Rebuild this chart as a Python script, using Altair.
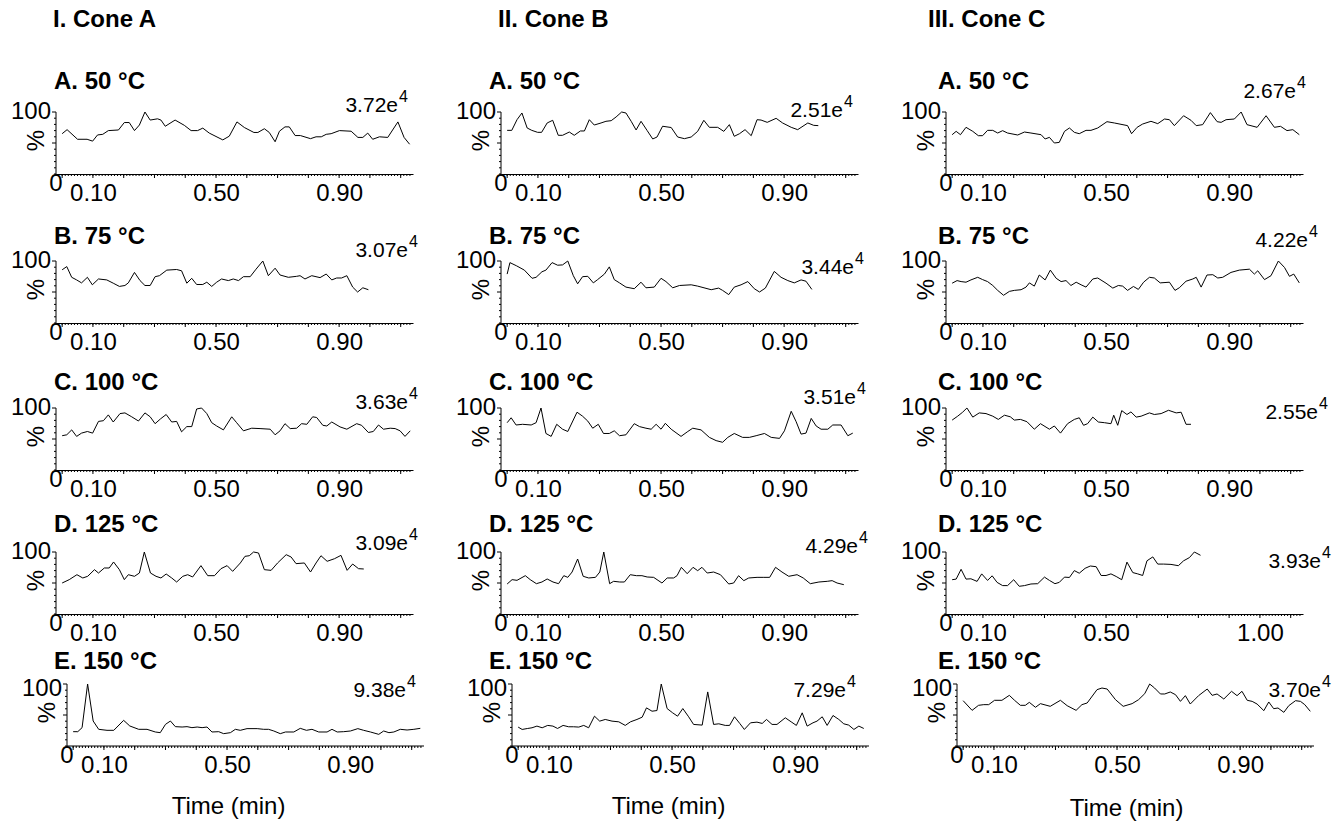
import altair as alt
import pandas as pd

FONT = "Liberation Sans"
X_MIN, X_MAX = -0.02, 1.14
PLOT_W, PLOT_H = 357, 62
SHIFT_E = 11
PX_PER_MIN = PLOT_W / (X_MAX - X_MIN)

# ---------------- data: (time in min, relative intensity %) ----------------
CONE_A_50 = [(0.0,65),(0.016,71.5),(0.05,56),(0.081,56),(0.099,53),(0.115,63),(0.132,64),(0.15,70),(0.183,71),(0.202,83),(0.218,83),(0.235,70),(0.251,79),(0.269,100),(0.286,87),(0.31,89),(0.321,87),(0.335,77),(0.367,87),(0.397,78.5),(0.419,70),(0.44,70),(0.457,74),(0.478,66),(0.522,55),(0.543,61),(0.568,84),(0.592,75),(0.623,67),(0.636,67),(0.657,73),(0.673,67),(0.692,52),(0.706,69),(0.724,76),(0.738,76),(0.757,62),(0.774,62),(0.807,57),(0.825,60),(0.842,60),(0.858,64),(0.874,65),(0.901,70),(0.939,69),(0.961,59),(0.977,59),(0.993,66),(1.009,56),(1.031,60),(1.058,59),(1.091,84),(1.111,59),(1.129,48)]
CONE_A_75 = [(0.0,85.8),(0.015,91),(0.031,73.7),(0.047,69.5),(0.063,64.7),(0.082,73.7),(0.098,61.6),(0.118,71),(0.145,69.5),(0.166,64.2),(0.186,59),(0.204,60.5),(0.215,64.7),(0.235,81.6),(0.253,68.4),(0.269,60.5),(0.286,60.5),(0.302,74.7),(0.316,76.3),(0.34,85.3),(0.372,86.3),(0.388,84.2),(0.405,64.2),(0.421,72.1),(0.437,62.1),(0.457,62.1),(0.47,65.8),(0.486,59),(0.502,65.8),(0.518,71),(0.54,68.4),(0.556,71),(0.573,68.4),(0.589,74.7),(0.611,74.7),(0.63,86.8),(0.652,100),(0.67,76.3),(0.692,88.4),(0.708,77.4),(0.735,73.7),(0.762,75.3),(0.773,76.3),(0.789,71),(0.811,76.3),(0.838,73.2),(0.858,79),(0.876,69.5),(0.892,72.6),(0.908,72.6),(0.925,76.3),(0.944,57.9),(0.96,50),(0.977,56.8),(0.995,53.7)]
CONE_A_100 = [(0.0,55.3),(0.015,56.8),(0.031,64.7),(0.047,54.2),(0.063,59.5),(0.082,62.1),(0.099,59.5),(0.118,78.4),(0.134,79.5),(0.15,88.9),(0.166,77.4),(0.188,91),(0.204,92.1),(0.226,85.8),(0.248,79),(0.269,92.1),(0.286,85.8),(0.302,74.7),(0.32,82.6),(0.338,89.5),(0.356,77.4),(0.372,78.4),(0.388,61.6),(0.405,70),(0.421,70),(0.437,98.4),(0.453,100),(0.47,91),(0.486,76.3),(0.502,71),(0.524,64.7),(0.551,85.8),(0.567,76.3),(0.589,63.2),(0.616,67.4),(0.643,66.8),(0.676,65.8),(0.692,56.8),(0.708,63.2),(0.724,74.7),(0.741,66.8),(0.762,67.4),(0.778,74.7),(0.795,73.7),(0.814,85.8),(0.827,84.7),(0.847,72.1),(0.86,71),(0.876,77.4),(0.903,69.5),(0.925,65.8),(0.957,74.7),(0.973,72.1),(0.995,60.5),(1.011,62.1),(1.028,72.6),(1.044,65.8),(1.066,67.4),(1.082,66.8),(1.098,63.2),(1.114,54.2),(1.131,63.2)]
CONE_A_125 = [(0.0,50),(0.023,55.4),(0.048,63.4),(0.067,58.1),(0.083,60.8),(0.105,71.5),(0.118,66.1),(0.137,74.2),(0.153,74.2),(0.167,83.9),(0.186,71.5),(0.202,55.4),(0.215,63.4),(0.235,60.8),(0.251,66.1),(0.267,100),(0.287,66.1),(0.305,60.8),(0.321,58.1),(0.338,64.5),(0.356,58.1),(0.372,51.6),(0.392,60.8),(0.408,63.4),(0.424,59.7),(0.451,78),(0.473,61.8),(0.495,61.8),(0.516,73.1),(0.536,78),(0.554,68.8),(0.579,82.3),(0.594,93),(0.608,94),(0.622,100),(0.638,98.4),(0.657,71.5),(0.679,70.4),(0.7,82.3),(0.728,95.7),(0.744,91.9),(0.76,81.2),(0.787,82.3),(0.807,67.7),(0.825,82.3),(0.841,94),(0.861,85),(0.885,89.2),(0.906,94.6),(0.926,70.4),(0.944,80.6),(0.963,73.1),(0.98,72.6)]
CONE_A_150 = [(0.0,23.1),(0.015,23.1),(0.029,29.6),(0.047,100),(0.065,40.3),(0.083,26.9),(0.11,25.3),(0.132,25.3),(0.164,41.4),(0.184,32.3),(0.213,26.9),(0.24,26.9),(0.267,22.6),(0.283,21.5),(0.3,34.9),(0.316,40.3),(0.332,31.2),(0.354,30.6),(0.37,31.2),(0.386,29.6),(0.403,30.6),(0.419,29.6),(0.435,30.6),(0.451,22.6),(0.473,23.1),(0.489,19.9),(0.511,21.5),(0.527,26.9),(0.543,25.3),(0.565,28),(0.598,28),(0.619,26.9),(0.635,26.9),(0.652,24.2),(0.673,19.9),(0.69,22.6),(0.717,22.6),(0.738,28.5),(0.758,25.3),(0.776,26.9),(0.798,22.6),(0.825,22.6),(0.841,26.9),(0.858,22.6),(0.879,23.1),(0.901,24.2),(0.925,28),(0.944,25.3),(0.966,22.6),(0.993,18.8),(1.009,24.2),(1.026,21.5),(1.042,22.6),(1.063,26.9),(1.085,25.8),(1.107,26.9),(1.128,28.5)]

CONE_B_50 = [(0.0,70.4),(0.015,70.4),(0.032,87.6),(0.048,98.4),(0.065,74.2),(0.08,70.4),(0.099,67.2),(0.112,67.2),(0.13,82.3),(0.148,86.6),(0.166,62.4),(0.18,62.4),(0.202,67.7),(0.218,62.4),(0.238,69.4),(0.251,69.4),(0.267,87.6),(0.283,79),(0.305,82.3),(0.321,85),(0.338,86),(0.354,92),(0.372,100),(0.386,98.4),(0.403,85),(0.419,71),(0.435,85),(0.455,70),(0.473,56.5),(0.487,59.7),(0.505,77),(0.533,75),(0.554,59.7),(0.576,57),(0.598,59.7),(0.619,68.8),(0.639,86.6),(0.657,75.3),(0.684,75.3),(0.704,68.8),(0.722,79.6),(0.738,60.8),(0.755,65),(0.773,71.5),(0.793,61.8),(0.812,87.6),(0.825,87),(0.845,83.3),(0.874,89.8),(0.895,82.3),(0.923,75.3),(0.944,71.5),(0.977,82.3),(0.996,78.5),(1.011,78)]
CONE_B_75 = [(0.0,78.9),(0.009,97.4),(0.031,92.1),(0.056,85.3),(0.081,72.1),(0.094,73.7),(0.113,82.6),(0.126,85.3),(0.146,97.4),(0.164,93.2),(0.18,93.7),(0.197,100),(0.215,76.3),(0.229,63.2),(0.245,74.7),(0.262,75.3),(0.28,64.7),(0.294,70),(0.316,78.9),(0.332,90.5),(0.348,70),(0.365,64.7),(0.386,57.9),(0.413,55.3),(0.435,65.8),(0.451,56.8),(0.478,57.9),(0.5,72.1),(0.516,66.8),(0.538,56.8),(0.56,60.5),(0.598,61.6),(0.619,59.5),(0.663,53.7),(0.687,56.3),(0.7,52.6),(0.72,45.8),(0.738,57.9),(0.76,61.6),(0.782,66.8),(0.803,55.3),(0.82,50),(0.839,56.3),(0.868,83.2),(0.89,73.7),(0.912,68.4),(0.933,64.7),(0.955,69.5),(0.971,67.4),(0.99,54.2)]
CONE_B_100 = [(0.0,76.3),(0.013,84.2),(0.029,72.6),(0.05,73.7),(0.078,72.6),(0.094,76.3),(0.11,100),(0.126,58.9),(0.143,54.2),(0.161,73.7),(0.18,65.8),(0.197,62.1),(0.227,93.2),(0.245,86.8),(0.262,78.9),(0.278,67.4),(0.296,73.7),(0.313,58.9),(0.332,58.9),(0.348,63.2),(0.365,55.3),(0.386,56.8),(0.413,74.7),(0.43,70),(0.451,67.4),(0.468,65.8),(0.484,73.7),(0.5,65.8),(0.514,75.3),(0.533,65.8),(0.565,54.2),(0.587,62.1),(0.603,67.4),(0.63,64.7),(0.657,52.6),(0.679,47.4),(0.7,44.7),(0.717,52.6),(0.738,58.9),(0.765,52.6),(0.787,52.6),(0.809,55.3),(0.836,58.9),(0.858,52.6),(0.885,51),(0.901,63.2),(0.923,94.7),(0.939,77.9),(0.955,57.9),(0.971,59.5),(0.988,83.2),(1.004,71),(1.02,65.8),(1.042,65.8),(1.058,72.6),(1.085,72.6),(1.107,55.3),(1.123,59.5)]
CONE_B_125 = [(0.0,48.4),(0.016,55.4),(0.032,54.3),(0.059,61.8),(0.075,55.4),(0.095,48.9),(0.113,51.6),(0.13,56.5),(0.149,51.6),(0.167,48.9),(0.184,61.8),(0.197,59.1),(0.211,67.7),(0.229,88.7),(0.247,60.8),(0.265,58.1),(0.287,59.1),(0.301,67.7),(0.314,100),(0.333,48.9),(0.346,52.7),(0.366,51.6),(0.381,51.6),(0.4,63.4),(0.42,61.8),(0.438,61.8),(0.455,59.7),(0.476,59.1),(0.503,50),(0.52,58.1),(0.541,58.1),(0.552,61.8),(0.566,75.3),(0.585,65),(0.604,75.3),(0.619,69.9),(0.633,75.3),(0.65,66.1),(0.671,67.7),(0.693,63.4),(0.72,48.4),(0.736,50),(0.752,61.8),(0.769,53.8),(0.785,58.1),(0.812,59.1),(0.834,59.1),(0.853,59.1),(0.872,75.3),(0.893,67.7),(0.915,60.8),(0.942,63.4),(0.962,58.1),(0.985,48.9),(1.013,51.6),(1.04,52.7),(1.056,53.8),(1.072,50),(1.094,47.3)]
CONE_B_150 = [(0.0,30.5),(0.013,26.7),(0.031,28.3),(0.045,29.4),(0.061,32.1),(0.078,29.4),(0.096,33.2),(0.113,32.1),(0.128,28.3),(0.146,33.2),(0.164,31),(0.18,31),(0.197,30.5),(0.213,33.2),(0.229,29.4),(0.248,48.1),(0.265,40.1),(0.283,42.8),(0.305,40.1),(0.327,39),(0.348,33.2),(0.365,39),(0.386,42.8),(0.403,46.5),(0.417,61.5),(0.435,56.1),(0.451,57.2),(0.465,100),(0.484,60.4),(0.502,53.5),(0.518,48.1),(0.535,60.4),(0.554,47.1),(0.57,34.8),(0.598,33.7),(0.616,87.2),(0.635,34.8),(0.652,35.8),(0.673,33.2),(0.687,33.2),(0.703,47.1),(0.72,36.4),(0.735,26.7),(0.755,37.4),(0.776,38.5),(0.793,36.4),(0.807,42.8),(0.825,34.8),(0.841,34.8),(0.868,45.5),(0.887,39),(0.904,33.2),(0.923,53.5),(0.939,32.1),(0.958,37.4),(0.971,40.1),(0.988,47.1),(1.004,33.2),(1.023,49.2),(1.042,42.8),(1.058,35.8),(1.074,33.7),(1.091,26.7),(1.107,32.1),(1.123,28.3)]

CONE_C_50 = [(0.0,63.4),(0.013,68.8),(0.027,63.4),(0.045,75.3),(0.067,68.8),(0.085,61.8),(0.099,61.8),(0.115,70.4),(0.132,70.4),(0.148,66.1),(0.164,69.9),(0.18,66.1),(0.213,62.9),(0.235,67.7),(0.256,66.1),(0.289,63.4),(0.302,56.5),(0.316,59.1),(0.332,50),(0.348,51),(0.365,68.8),(0.381,74.2),(0.397,67.2),(0.413,65),(0.435,70.4),(0.451,70.4),(0.473,74.2),(0.503,84.4),(0.527,82.3),(0.57,78),(0.583,65),(0.601,75.3),(0.619,80.6),(0.646,85),(0.668,81.2),(0.69,88.7),(0.706,87.6),(0.722,78),(0.752,94),(0.776,86.6),(0.793,78),(0.814,79.6),(0.839,99),(0.861,84.4),(0.874,83.3),(0.89,87.6),(0.917,88.7),(0.939,100),(0.958,79.6),(0.991,75.3),(1.02,94),(1.047,75.3),(1.067,76.9),(1.088,70),(1.107,71.5),(1.128,63.4)]
CONE_C_75 = [(0.0,64.2),(0.016,68.4),(0.029,66.8),(0.045,65.8),(0.061,69.5),(0.083,73.7),(0.099,70),(0.115,66.8),(0.132,60.5),(0.148,52.6),(0.167,44.7),(0.186,51),(0.202,52.6),(0.224,53.7),(0.24,57.9),(0.251,64.7),(0.267,59.5),(0.283,77.4),(0.302,69.5),(0.319,85.3),(0.338,72.1),(0.354,66.8),(0.37,68.4),(0.386,60.5),(0.403,65.8),(0.419,61.6),(0.435,57.9),(0.457,71),(0.473,72.6),(0.5,64.2),(0.522,56.3),(0.54,60.5),(0.554,59.5),(0.57,52.6),(0.589,58.9),(0.605,54.2),(0.622,65.8),(0.641,73.7),(0.657,72.6),(0.676,64.7),(0.706,65.8),(0.724,52.6),(0.738,56.8),(0.76,67.4),(0.782,71),(0.793,73.7),(0.809,57.9),(0.828,77.4),(0.847,77.9),(0.863,72.6),(0.879,73.7),(0.906,81.6),(0.933,85.3),(0.966,86.8),(0.982,78.9),(0.993,84.2),(1.015,70),(1.036,76.3),(1.06,100),(1.08,89.5),(1.096,75.3),(1.11,78.9),(1.128,64.7)]
CONE_C_100 = [(0.0,80.5),(0.018,86.8),(0.034,93.2),(0.048,100),(0.067,85.3),(0.088,92.1),(0.11,91),(0.132,86.8),(0.15,81.6),(0.17,88.4),(0.189,85.8),(0.202,80.5),(0.222,81.6),(0.243,77.9),(0.267,65.8),(0.287,74.7),(0.316,65.8),(0.332,71),(0.352,59.5),(0.375,74.7),(0.397,81.6),(0.413,84.2),(0.427,72.1),(0.44,74.7),(0.457,85.3),(0.475,77.4),(0.495,76.3),(0.516,74.7),(0.525,88.4),(0.538,72.1),(0.551,95.8),(0.568,89.5),(0.581,93.7),(0.598,85.3),(0.614,86.8),(0.641,92.1),(0.657,89.5),(0.679,91),(0.703,96.3),(0.728,92.1),(0.744,93.2),(0.76,73.7),(0.776,73.7)]
CONE_C_125 = [(0.0,55.3),(0.013,56.3),(0.029,72.1),(0.045,56.3),(0.061,56.8),(0.081,52.6),(0.096,64.7),(0.115,54.2),(0.13,61.6),(0.146,51),(0.164,45.8),(0.18,45.8),(0.2,55.3),(0.218,44.7),(0.235,45.8),(0.256,48.4),(0.278,48.9),(0.3,59.5),(0.316,54.2),(0.334,48.9),(0.348,51),(0.365,59.5),(0.381,58.9),(0.397,70),(0.413,65.8),(0.432,73.7),(0.449,77.4),(0.468,76.3),(0.484,62.1),(0.5,62.1),(0.516,64.7),(0.533,60.5),(0.551,55.3),(0.568,83.7),(0.587,66.8),(0.603,64.7),(0.619,62.1),(0.633,85.8),(0.652,92.1),(0.668,80.5),(0.687,80.5),(0.711,80),(0.735,77.9),(0.752,85.8),(0.771,91),(0.787,100),(0.807,94.7)]
CONE_C_150 = [(0.0,73.1),(0.029,57.5),(0.05,65.6),(0.067,66.7),(0.083,66.7),(0.102,73.7),(0.126,73.7),(0.15,81.7),(0.167,73.7),(0.186,65.6),(0.202,65.6),(0.215,70.4),(0.235,62.4),(0.251,68.3),(0.283,64),(0.316,73.7),(0.338,65),(0.367,57.5),(0.386,66.7),(0.403,69.4),(0.435,90.9),(0.451,93.5),(0.468,91.9),(0.495,74.7),(0.52,64),(0.549,68.3),(0.57,74.7),(0.59,84.4),(0.606,100),(0.622,93.5),(0.641,83.9),(0.655,83.9),(0.673,87.1),(0.69,82.8),(0.706,72),(0.722,81.2),(0.738,67.7),(0.765,81.2),(0.793,91.9),(0.809,81.7),(0.825,83.9),(0.847,75.8),(0.872,88.2),(0.89,81.2),(0.906,88.2),(0.923,73.7),(0.939,72),(0.955,67.7),(0.977,57),(0.993,71),(1.009,60.2),(1.023,61.3),(1.042,54.3),(1.058,65),(1.08,73.1),(1.096,72),(1.11,66.7),(1.128,55.9)]

CONE_HEADERS = ["I. Cone A", "II. Cone B", "III. Cone C"]
TEMP_TITLES = ["A. 50 °C", "B. 75 °C", "C. 100 °C", "D. 125 °C", "E. 150 °C"]
SERIES = [
    [CONE_A_50, CONE_B_50, CONE_C_50],
    [CONE_A_75, CONE_B_75, CONE_C_75],
    [CONE_A_100, CONE_B_100, CONE_C_100],
    [CONE_A_125, CONE_B_125, CONE_C_125],
    [CONE_A_150, CONE_B_150, CONE_C_150],
]
# base peak intensity (x 10^4)
INTENSITY = [
    ["3.72e", "2.51e", "2.67e"],
    ["3.07e", "3.44e", "4.22e"],
    ["3.63e", "3.51e", "2.55e"],
    ["3.09e", "4.29e", "3.93e"],
    ["9.38e", "7.29e", "3.70e"],
]
X_LABELS = [
    [[0.1, 0.5, 0.9]] * 3,
    [[0.1, 0.5, 0.9]] * 3,
    [[0.1, 0.5, 0.9]] * 3,
    [[0.1, 0.5, 0.9], [0.1, 0.5, 0.9], [0.1, 0.5, 1.0]],
    [[0.1, 0.5, 0.9]] * 3,
]
MINOR_TICKS = [round(0.01 * i, 2) for i in range(0, 114)]
MAJOR_TICKS = [round(0.1 * i, 1) for i in range(0, 12)]
Y_MINOR_TICKS = [0, 10, 20, 30, 40, 60, 70, 80, 90]
Y_MAJOR_TICKS = [50, 100]

# styling / layout (pixels)
ROW_PITCH = [149, 147, 144, 132]          # distance from one row's plot top to the next
CELL_H = ROW_PITCH + [PLOT_H]
TITLE_DX = [-2, -12, -8]
TITLE_DY = [-30, -24, -25, -27, -22]
HEADER_DX = [-3, -3, -18]
LABEL100_DY = [0, 0, 0, 0, 5]
INT_POS = [
    [(342, -6), (342, -1), (350, -20)],
    [(352, -10), (353, 7), (362, -20)],
    [(352, -5), (355, -10), (372, 5)],
    [(352, -8), (357, -5), (375, 10)],
    [(350, 7), (345, 7), (375, 7)],
]
TIME_TITLE = [(172, 60), (167, 60), (180, 62)]
TICK_FS = 24


def one_row():
    return alt.Chart(pd.DataFrame({"k": [0]}))


def make_panel(row, col):
    is_e = row == 4
    shift = SHIFT_E if is_e else 0
    width = PLOT_W + shift
    height = CELL_H[row]
    x_lo = X_MIN - shift / PX_PER_MIN
    df = pd.DataFrame(SERIES[row][col], columns=["time", "pct"])

    x_axis = dict(
        values=X_LABELS[row][col], format=".2f", ticks=False,
        labelFont=FONT, labelFontSize=TICK_FS, labelColor="black", labelPadding=7,
        labelFlush=False, labelOverlap=False, labelAlign="center",
        domainColor="black", grid=False, domain=not is_e,
        title="",
    )
    if height != PLOT_H:
        x_axis["offset"] = -(height - PLOT_H)
    if is_e:
        tx, ty = TIME_TITLE[col]
        x_axis.update(title="Time (min)", titleFont=FONT, titleFontSize=24, titleFontWeight="normal",
                      titleColor="black", titleX=tx, titleY=ty, titleAlign="center", titleBaseline="middle")
    y_axis = dict(
        labels=False, ticks=False, domain=False, grid=False,
        title="%", titleFont=FONT, titleFontSize=TICK_FS, titleFontWeight="normal", titleColor="black",
        titleAngle=270, titleX=-20, titleY=28, titleAlign="center", titleBaseline="middle",
    )
    if is_e:
        y_axis["offset"] = -shift

    xs = alt.Scale(domain=[x_lo, X_MAX], nice=False, zero=False)
    ys = alt.Scale(domain=[0, 100], range=[PLOT_H, 0], nice=False)

    line = alt.Chart(df).mark_line(color="black", strokeWidth=1).encode(
        x=alt.X("time:Q", scale=xs, axis=alt.Axis(**x_axis)),
        y=alt.Y("pct:Q", scale=ys, axis=alt.Axis(**y_axis)),
    )
    layers = [line]
    # y-axis line (0 to 100 %) with ticks
    layers.append(one_row().mark_rule(color="black", strokeWidth=1).encode(
        x=alt.datum(X_MIN), y=alt.datum(0), y2=alt.datum(100)))
    layers.append(alt.Chart(pd.DataFrame({"v": Y_MINOR_TICKS})).mark_rule(color="black", strokeWidth=1).encode(
        y="v:Q", x=alt.value(shift), x2=alt.value(shift - 2)))
    layers.append(alt.Chart(pd.DataFrame({"v": Y_MAJOR_TICKS})).mark_rule(color="black", strokeWidth=1).encode(
        y="v:Q", x=alt.value(shift), x2=alt.value(shift - 4)))
    if is_e:
        layers.append(one_row().mark_rule(color="black", strokeWidth=1).encode(
            x=alt.datum(X_MIN), x2=alt.datum(X_MAX), y=alt.datum(0)))
    # x-axis ticks: dense minor ticks and longer ticks every 0.1 min
    layers.append(alt.Chart(pd.DataFrame({"t": MINOR_TICKS})).mark_rule(color="black", strokeWidth=1).encode(
        x="t:Q", y=alt.value(PLOT_H), y2=alt.value(PLOT_H + 2)))
    layers.append(alt.Chart(pd.DataFrame({"t": MAJOR_TICKS})).mark_rule(color="black", strokeWidth=1).encode(
        x="t:Q", y=alt.value(PLOT_H), y2=alt.value(PLOT_H + 4)))
    # y-axis labels: 100 at the top, 0 below the corner
    layers.append(one_row().mark_text(text="100", font=FONT, fontSize=TICK_FS, color="black",
                                      align="right", baseline="middle", dx=-5, dy=LABEL100_DY[row]).encode(
        x=alt.datum(X_MIN), y=alt.datum(100)))
    layers.append(one_row().mark_text(text="0", font=FONT, fontSize=TICK_FS, color="black",
                                      align="center", baseline="middle", dy=10).encode(
        x=alt.datum(X_MIN), y=alt.datum(0)))
    # panel title
    layers.append(one_row().mark_text(text=TEMP_TITLES[row], font=FONT, fontSize=24, fontWeight="bold",
                                      color="black", align="left", baseline="middle").encode(
        x=alt.value(TITLE_DX[col]), y=alt.value(TITLE_DY[row])))
    # base peak intensity with superscript exponent
    rx, cy = INT_POS[row][col]
    layers.append(one_row().mark_text(text=INTENSITY[row][col], font=FONT, fontSize=21, color="black",
                                      align="right", baseline="middle").encode(
        x=alt.value(rx), y=alt.value(cy)))
    layers.append(one_row().mark_text(text="4", font=FONT, fontSize=16, color="black",
                                      align="left", baseline="middle").encode(
        x=alt.value(rx + 1), y=alt.value(cy - 9)))
    if row == 0:
        layers.append(one_row().mark_text(text=CONE_HEADERS[col], font=FONT, fontSize=24, fontWeight="bold",
                                          color="black", align="left", baseline="middle").encode(
            x=alt.value(HEADER_DX[col]), y=alt.value(-92)))
    return alt.layer(*layers).properties(width=width, height=height)


panels = [make_panel(r, c) for r in range(5) for c in range(3)]

chart = alt.concat(*panels, columns=3, spacing={"row": 0, "column": 77}, bounds="flush",
                   align="each").properties(
    padding={"left": 10, "top": 8, "right": 5, "bottom": 2}
).configure_view(stroke=None)

chart.save("out.html", embed_options={"renderer": "svg", "actions": False})
